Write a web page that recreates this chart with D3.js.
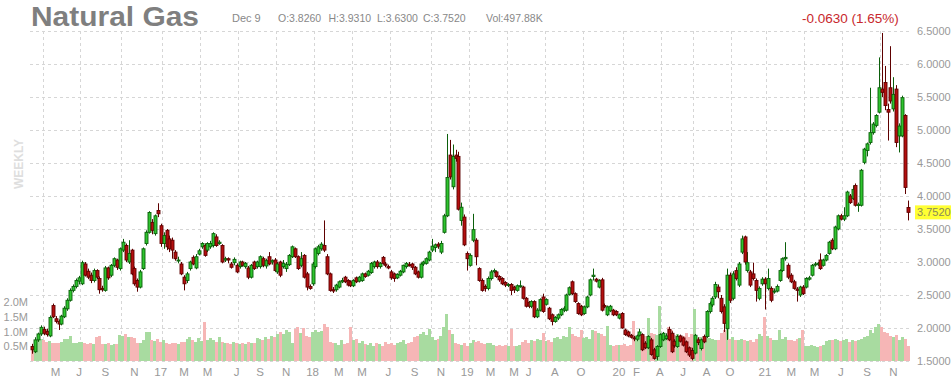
<!DOCTYPE html>
<html><head><meta charset="utf-8">
<script src="https://cdnjs.cloudflare.com/ajax/libs/d3/7.8.5/d3.min.js"></script>
<style>
html,body{margin:0;padding:0;background:#fff;}
svg{display:block;font-family:"Liberation Sans",Arial,sans-serif;}
</style></head><body>
<svg id="chart" width="951" height="379"></svg>
<script>
// Weekly OHLC (USD), oldest first
const open = [
1.72,1.64,1.82,1.91,1.98,1.95,1.88,2.34,2.14,2.10,
2.06,2.17,2.29,2.42,2.57,2.63,2.71,2.67,2.97,2.86,
2.80,2.72,2.87,2.75,2.60,2.57,2.91,2.80,2.95,3.03,
2.90,3.18,3.25,3.00,3.18,2.90,2.72,2.62,2.90,3.28,
3.45,3.60,3.43,3.78,3.55,3.28,3.48,3.35,3.33,3.15,
3.03,2.97,2.77,2.72,2.90,3.07,2.91,3.12,3.23,3.25,
3.18,3.23,3.25,3.38,3.28,3.25,3.03,3.05,2.97,2.99,
2.95,2.93,3.00,2.93,2.91,2.77,3.00,2.93,2.93,3.05,
2.94,3.08,3.00,3.03,2.85,3.00,2.93,2.90,2.96,3.08,
3.20,3.08,2.95,3.10,2.82,2.63,2.67,2.93,3.13,3.20,
3.25,3.08,2.82,2.58,2.58,2.62,2.70,2.77,2.72,2.70,
2.64,2.76,2.71,2.72,2.82,2.80,2.84,2.93,3.00,2.93,
3.07,2.97,2.93,2.85,2.82,2.76,2.80,2.85,2.93,2.96,
2.97,2.92,2.85,2.77,2.97,2.98,3.03,3.18,3.22,3.27,
3.15,3.45,3.70,4.62,4.14,4.62,4.60,3.63,3.68,3.13,
2.95,3.33,3.33,2.90,2.72,2.63,2.60,2.75,2.86,2.85,
2.78,2.75,2.69,2.65,2.66,2.62,2.57,2.63,2.62,2.45,
2.39,2.33,2.40,2.17,2.27,2.47,2.36,2.30,2.20,2.10,
2.15,2.20,2.27,2.27,2.51,2.70,2.52,2.37,2.33,2.22,
2.32,2.50,2.78,2.74,2.62,2.73,2.34,2.20,2.26,2.27,
2.25,2.15,2.22,1.97,1.94,1.89,1.85,1.83,1.89,1.90,
1.77,1.70,1.82,1.67,1.57,1.72,1.82,1.84,1.98,1.92,
1.80,1.72,1.88,1.85,1.79,1.70,1.66,1.62,1.82,1.69,
1.87,1.87,2.25,2.35,2.47,2.62,2.45,2.32,1.99,2.80,
2.45,2.87,2.65,3.15,3.38,2.87,2.85,2.82,2.72,2.45,
2.67,2.74,2.60,2.60,2.55,2.56,2.72,2.87,3.05,2.95,
2.80,2.70,2.59,2.50,2.62,2.62,2.74,2.80,2.96,2.97,
3.03,2.95,3.03,3.13,3.33,3.20,3.50,3.70,3.65,3.70,
4.00,3.96,4.16,3.86,3.86,4.51,4.69,4.81,4.96,5.07,
5.27,5.62,5.72,5.31,5.64,5.32,5.62,4.91,4.91,5.22,
3.826];
const high = [
1.76,1.86,1.93,2.04,2.02,1.99,2.19,2.37,2.18,2.13,
2.20,2.33,2.45,2.60,2.66,2.75,2.79,3.02,3.00,2.90,
2.84,2.90,2.89,2.78,2.64,2.94,2.93,2.97,3.07,3.05,
3.22,3.35,3.28,3.33,3.20,2.93,2.75,2.88,3.22,3.48,
3.77,3.65,3.72,3.89,3.58,3.45,3.50,3.40,3.37,3.18,
3.08,3.00,2.80,2.85,3.02,3.10,3.12,3.20,3.30,3.28,
3.30,3.32,3.45,3.42,3.33,3.27,3.08,3.07,3.00,3.07,
2.98,3.02,3.02,3.00,2.94,2.97,3.02,3.02,3.10,3.08,
3.05,3.15,3.04,3.06,3.00,3.02,3.03,3.00,3.12,3.25,
3.22,3.10,3.15,3.12,2.85,2.66,3.00,3.22,3.26,3.30,
3.63,3.12,2.84,2.62,2.67,2.72,2.76,2.79,2.74,2.72,
2.74,2.78,2.79,2.84,2.84,2.88,3.00,3.02,3.03,3.00,
3.09,3.00,2.96,2.88,2.84,2.83,2.88,2.96,3.00,3.00,
2.99,2.94,2.87,2.99,3.02,3.07,3.17,3.35,3.28,3.30,
3.32,3.73,4.94,4.85,4.78,4.70,4.67,3.90,3.72,3.16,
3.13,3.73,3.36,2.92,2.75,2.66,2.78,2.88,2.90,2.87,
2.80,2.77,2.71,2.68,2.68,2.64,2.66,2.72,2.64,2.47,
2.41,2.42,2.42,2.30,2.45,2.52,2.45,2.32,2.22,2.18,
2.22,2.30,2.33,2.52,2.63,2.72,2.54,2.39,2.35,2.34,
2.49,2.75,2.90,2.76,2.74,2.76,2.37,2.34,2.35,2.29,
2.27,2.22,2.24,1.99,1.96,1.91,1.88,1.90,1.99,1.92,
1.80,1.89,1.85,1.70,1.74,1.92,1.94,1.92,2.02,1.95,
1.83,1.90,1.90,1.87,1.81,1.72,1.70,1.91,1.86,1.84,
1.90,2.27,2.40,2.48,2.70,2.66,2.50,2.36,2.90,2.84,
2.86,2.92,3.00,3.40,3.40,3.15,2.88,2.99,2.75,2.63,
2.77,2.77,2.90,2.63,2.60,2.66,2.89,3.07,3.30,2.98,
2.83,2.73,2.62,2.64,2.65,2.77,2.79,2.97,3.00,3.00,
3.13,3.05,3.12,3.32,3.36,3.55,3.72,3.73,3.83,4.08,
4.03,4.16,4.19,3.90,4.41,4.73,4.81,5.64,5.12,5.24,
6.10,6.47,5.97,5.40,6.27,5.80,5.68,5.10,5.52,5.24,
3.931];
const low = [
1.61,1.62,1.79,1.88,1.89,1.87,1.86,2.15,2.07,1.97,
2.04,2.15,2.26,2.40,2.54,2.60,2.66,2.65,2.78,2.74,
2.68,2.69,2.74,2.52,2.55,2.55,2.73,2.77,2.92,2.88,
2.87,3.15,3.00,2.97,2.80,2.64,2.55,2.60,2.88,3.25,
3.43,3.42,3.40,3.68,3.23,3.20,3.18,3.15,3.05,3.02,
2.98,2.80,2.57,2.68,2.87,2.95,2.89,3.10,3.20,3.08,
3.15,3.20,3.22,3.23,3.26,2.98,3.00,2.98,2.90,2.95,
2.83,2.90,2.93,2.90,2.74,2.75,2.88,2.90,2.90,2.92,
2.90,2.95,2.96,2.85,2.82,2.77,2.90,2.85,2.94,3.06,
3.06,2.88,2.92,2.75,2.57,2.58,2.64,2.90,3.10,3.17,
3.15,2.80,2.55,2.53,2.55,2.60,2.68,2.68,2.63,2.62,
2.62,2.68,2.69,2.70,2.76,2.78,2.82,2.90,2.90,2.90,
2.96,2.92,2.89,2.73,2.70,2.74,2.78,2.83,2.90,2.93,
2.88,2.80,2.75,2.75,2.94,2.96,3.01,3.15,3.15,3.20,
3.12,3.43,3.68,4.25,4.10,4.52,3.78,3.55,3.24,2.87,
2.93,3.30,2.95,2.70,2.55,2.55,2.57,2.72,2.83,2.76,
2.70,2.65,2.62,2.62,2.50,2.53,2.55,2.61,2.43,2.31,
2.30,2.30,2.15,2.15,2.25,2.23,2.34,2.12,2.04,2.08,
2.12,2.18,2.24,2.25,2.49,2.50,2.38,2.20,2.18,2.20,
2.30,2.48,2.72,2.69,2.60,2.25,2.30,2.18,2.24,2.18,
2.18,2.13,1.99,1.88,1.86,1.84,1.80,1.80,1.87,1.65,
1.68,1.68,1.58,1.52,1.51,1.70,1.80,1.82,1.80,1.62,
1.70,1.70,1.78,1.72,1.62,1.56,1.51,1.60,1.74,1.66,
1.77,1.85,2.22,2.32,2.44,2.45,2.22,1.94,1.82,2.38,
2.42,2.72,2.62,3.12,2.96,2.84,2.62,2.72,2.40,2.42,
2.64,2.28,2.57,2.39,2.52,2.54,2.70,2.85,3.02,2.74,
2.68,2.58,2.40,2.47,2.50,2.60,2.72,2.78,2.93,2.94,
2.88,2.93,3.01,3.11,3.18,3.18,3.48,3.63,3.62,3.68,
3.88,3.94,3.84,3.76,3.84,4.48,4.60,4.78,4.93,5.04,
5.25,5.50,5.30,4.84,5.40,5.28,4.74,4.66,4.89,4.03,
3.63];
const close = [
1.67,1.82,1.91,2.01,1.92,1.90,2.16,2.17,2.10,2.06,
2.18,2.30,2.42,2.57,2.63,2.72,2.76,2.99,2.80,2.77,
2.72,2.87,2.77,2.58,2.58,2.91,2.76,2.95,3.05,2.92,
3.20,3.30,3.03,3.13,2.82,2.67,2.62,2.85,3.20,3.45,
3.75,3.48,3.70,3.73,3.28,3.40,3.23,3.20,3.18,3.05,
3.03,2.82,2.67,2.82,3.00,2.97,3.08,3.17,3.28,3.10,
3.28,3.28,3.43,3.25,3.30,3.00,3.05,3.03,2.92,3.04,
2.85,3.00,2.95,2.98,2.77,2.95,2.90,3.00,3.08,2.95,
3.02,2.97,3.02,2.87,2.97,2.80,2.98,2.96,3.10,3.23,
3.08,2.90,3.05,2.77,2.62,2.60,2.97,3.20,3.23,3.27,
3.18,2.82,2.57,2.56,2.65,2.70,2.72,2.70,2.65,2.64,
2.72,2.70,2.77,2.82,2.78,2.86,2.98,3.00,2.93,2.98,
2.98,2.95,2.91,2.76,2.75,2.81,2.86,2.95,2.98,2.95,
2.92,2.82,2.77,2.97,3.00,3.05,3.15,3.24,3.26,3.24,
3.28,3.70,4.28,4.29,4.60,4.57,3.80,3.83,3.26,3.05,
3.10,3.49,3.08,2.72,2.57,2.60,2.75,2.85,2.87,2.78,
2.73,2.67,2.65,2.66,2.57,2.58,2.64,2.64,2.45,2.33,
2.33,2.40,2.17,2.27,2.43,2.25,2.43,2.14,2.10,2.16,
2.20,2.28,2.30,2.50,2.61,2.52,2.40,2.22,2.20,2.32,
2.47,2.73,2.80,2.71,2.72,2.27,2.32,2.32,2.33,2.20,
2.20,2.20,2.00,1.90,1.88,1.86,1.84,1.88,1.94,1.67,
1.70,1.87,1.60,1.54,1.72,1.90,1.92,1.88,1.82,1.64,
1.73,1.87,1.80,1.74,1.64,1.59,1.54,1.89,1.78,1.82,
1.79,2.25,2.37,2.45,2.66,2.55,2.25,2.07,2.80,2.42,
2.82,2.75,2.97,3.35,3.00,2.99,2.65,2.75,2.57,2.60,
2.74,2.67,2.75,2.42,2.56,2.63,2.87,3.05,3.07,2.77,
2.70,2.60,2.57,2.62,2.52,2.75,2.76,2.95,2.97,2.98,
2.90,3.03,3.10,3.30,3.20,3.53,3.70,3.65,3.70,4.06,
3.90,4.10,3.86,3.87,4.39,4.71,4.79,4.96,5.09,5.22,
5.64,5.57,5.37,5.27,5.44,5.54,4.81,5.06,5.49,4.13,
3.752];
// weekly volume, millions of contracts
const volume = [
0.50,0.70,0.72,0.73,0.70,0.66,0.68,0.62,0.62,0.60,
0.63,0.73,0.74,0.85,0.62,0.60,0.64,0.66,0.60,0.58,
0.61,0.59,0.80,0.85,0.58,0.56,0.60,0.55,0.58,0.57,
0.88,0.86,0.93,0.80,0.82,0.78,0.60,0.62,0.70,0.98,
1.00,0.72,0.68,0.75,0.65,0.70,0.60,0.58,0.62,0.60,
0.57,0.63,0.65,0.75,0.80,0.70,0.66,0.78,0.68,1.33,
0.70,0.78,0.72,0.66,0.80,0.64,0.60,0.62,0.58,0.64,
0.60,0.56,0.62,0.58,0.63,0.60,0.62,0.78,0.75,0.70,
0.80,0.74,0.85,0.82,0.92,1.00,0.90,1.05,0.98,0.60,
1.10,1.15,0.95,1.12,0.85,0.80,1.00,1.05,0.98,1.02,
1.25,1.15,0.65,0.60,0.62,0.55,0.70,0.58,0.62,1.15,
0.72,0.75,0.62,0.68,0.58,0.55,0.62,0.50,0.60,0.56,
0.52,0.65,0.58,0.62,0.55,0.60,0.65,0.70,0.58,0.62,
0.66,0.80,0.85,0.92,1.00,0.88,1.10,0.80,0.70,0.75,
0.85,1.15,1.60,1.05,0.90,0.62,0.58,0.55,0.60,0.52,
0.62,0.70,0.65,0.68,0.60,0.58,0.62,0.60,0.55,0.52,
0.55,0.50,0.55,0.52,1.10,0.50,0.52,0.55,0.65,0.70,
0.62,0.72,0.68,0.75,0.70,0.95,0.68,0.72,0.65,0.78,
0.82,0.75,0.85,0.80,1.15,0.90,0.85,0.80,1.05,0.78,
0.80,0.75,1.05,1.02,0.95,0.90,0.85,1.20,0.55,0.52,
0.55,0.54,0.55,0.58,0.52,0.55,1.35,0.85,0.90,0.75,
0.85,1.45,0.95,0.90,0.88,1.85,0.80,0.78,1.15,1.05,
0.88,0.90,0.80,0.85,0.95,0.82,0.90,1.75,0.78,0.80,
0.75,0.82,0.78,0.74,0.72,0.70,0.95,1.05,1.30,0.75,
0.80,0.72,0.70,0.76,0.70,0.68,0.72,0.65,0.75,0.90,
0.85,1.50,0.85,0.78,0.70,0.72,1.05,0.75,0.80,0.70,
0.72,0.68,0.74,0.78,1.05,0.52,0.50,0.55,0.50,0.48,
0.52,0.55,0.68,0.70,0.72,0.75,0.70,0.68,0.72,0.75,
0.65,0.70,0.68,0.72,0.75,0.80,0.85,1.05,0.95,1.15,
1.25,1.15,1.00,0.95,0.85,0.80,0.88,0.72,0.80,0.75,
0.498];

const priceTicks = [1.5,2.0,2.5,3.0,3.5,4.0,4.5,5.0,5.5,6.0,6.5];
const volumeTicks = [0.5,1.0,1.5,2.0];
const monthLabels = ["M","J","S","N","17","M","M","J","S","N","18","M","M","J","S","N","19","M","M","J","A","O","20","F","A","J","A","O","21","M","M","J","S","N"];
const monthLabelBars = [8,16,25,35,44,52,60,70,78,87,96,105,113,122,131,140,149,157,165,170,179,188,201,207,215,223,231,239,251,260,268,277,286,295];
const quarterGridBars = [3,16,30,44,57,70,83,96,109,122,136,149,162,175,188,202,215,226,239,251,264,277,290];

const title = "Natural Gas";
const lastDate = "Dec 9";
const ohlcText = ["O:3.8260","H:3.9310","L:3.6300","C:3.7520"];
const volText = "Vol:497.88K";
const changeText = "-0.0630 (1.65%)";
const lastPriceText = "3.7520";

const svg = d3.select("#chart");
const n = close.length;
const x = d3.scaleLinear().domain([0, n - 1]).range([32.3, 908]);
const y = d3.scaleLinear().domain([1.5, 6.5]).range([361, 31]);
const yv = d3.scaleLinear().domain([0, 2]).range([361, 302]);
const fmtP = d3.format(".4f");
const fmtV = d3.format(".1f");

// grid
const grid = svg.append("g").attr("stroke", "#d6d6d6").attr("stroke-width", 1)
  .attr("stroke-dasharray", "3,3").attr("shape-rendering", "crispEdges");
grid.selectAll("line.h").data(priceTicks).join("line").attr("class", "h")
  .attr("x1", 30).attr("x2", 912)
  .attr("y1", d => Math.round(y(d)) + 0.5).attr("y2", d => Math.round(y(d)) + 0.5);
grid.selectAll("line.v").data(quarterGridBars).join("line").attr("class", "v")
  .attr("x1", d => Math.round(x(d + 0.5)) + 0.5).attr("x2", d => Math.round(x(d + 0.5)) + 0.5)
  .attr("y1", 31).attr("y2", 362);

// volume
const idx = d3.range(n);
const up = i => close[i] >= open[i];
svg.append("g").attr("shape-rendering", "crispEdges").selectAll("rect").data(idx).join("rect")
  .attr("x", i => x(i) - 1.5).attr("width", 3)
  .attr("y", i => yv(volume[i])).attr("height", i => yv(0) - yv(volume[i]))
  .attr("fill", i => up(i) ? "#a8dba0" : "#f6b6b6");

// candles
const cg = svg.append("g");
cg.selectAll("line").data(idx).join("line")
  .attr("x1", i => Math.round(x(i)) + 0.5).attr("x2", i => Math.round(x(i)) + 0.5)
  .attr("y1", i => y(high[i])).attr("y2", i => y(low[i]))
  .attr("stroke", i => up(i) ? "#0b5f0b" : "#5e0000").attr("stroke-width", 1);
cg.selectAll("rect").data(idx).join("rect")
  .attr("x", i => Math.round(x(i)) - 1)
  .attr("width", 3)
  .attr("y", i => y(Math.max(open[i], close[i])))
  .attr("height", i => Math.max(1, Math.abs(y(open[i]) - y(close[i]))))
  .attr("fill", i => up(i) ? "#2fc42f" : "#b40f0f")
  .attr("stroke", i => up(i) ? "#0b5f0b" : "#5e0000").attr("stroke-width", 0.9);

// price axis labels
svg.append("g").selectAll("text").data(priceTicks).join("text")
  .attr("x", 917).attr("y", d => y(d) + 4)
  .attr("font-size", 11).attr("fill", "#999").text(d => fmtP(d));

// last price highlight
const lastClose = close[n - 1];
svg.append("rect").attr("x", 915).attr("y", y(lastClose) - 7).attr("width", 36).attr("height", 14).attr("fill", "#ffff33");
svg.append("text").attr("x", 917).attr("y", y(lastClose) + 4).attr("font-size", 11).attr("fill", "#8a8a5a").text(lastPriceText);

// volume axis labels
svg.append("g").selectAll("text").data(volumeTicks).join("text")
  .attr("x", 28).attr("y", d => yv(d) + 4).attr("text-anchor", "end")
  .attr("font-size", 11).attr("fill", "#999").text(d => fmtV(d) + "M");

// month labels
svg.append("g").selectAll("text").data(monthLabels).join("text")
  .attr("x", (d, k) => x(monthLabelBars[k])).attr("y", 376).attr("text-anchor", "middle")
  .attr("font-size", 11.5).attr("fill", "#999").text(d => d);

// WEEKLY
svg.append("text").attr("transform", "translate(23,164) rotate(-90)").attr("text-anchor", "middle")
  .attr("font-size", 12).attr("font-weight", "bold").attr("fill", "#dedede").text("WEEKLY");

// header
svg.append("text").attr("x", 31).attr("y", 26).attr("font-size", 28.5).attr("font-weight", "bold")
  .attr("textLength", 168).attr("lengthAdjust", "spacingAndGlyphs")
  .attr("fill", "#7f7f7f").text(title);
svg.append("text").attr("x", 232).attr("y", 22).attr("font-size", 11).attr("fill", "#888").text(lastDate);
const ohlcX = [278, 328.5, 377, 423];
svg.append("g").selectAll("text").data(ohlcText).join("text")
  .attr("x", (d, k) => ohlcX[k]).attr("y", 22).attr("font-size", 10.5).attr("fill", "#888").text(d => d);
svg.append("text").attr("x", 486).attr("y", 22).attr("font-size", 10.5).attr("fill", "#888").text(volText);
svg.append("text").attr("x", 802).attr("y", 23).attr("font-size", 13.5).attr("fill", "#c8282d").text(changeText);
</script>
</body></html>
